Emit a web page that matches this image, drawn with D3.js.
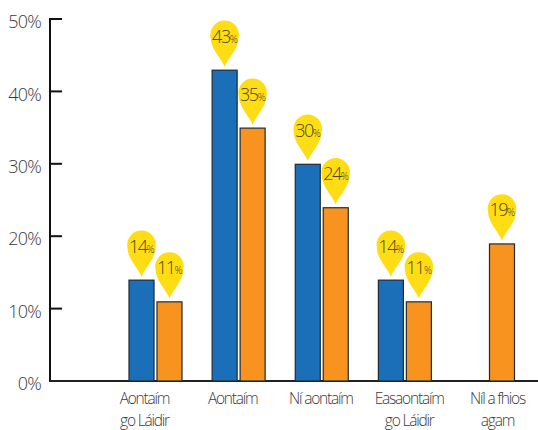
<!DOCTYPE html>
<html><head><meta charset="utf-8">
<script src="https://cdn.jsdelivr.net/npm/d3@7"></script>
<style>html,body{margin:0;padding:0;background:#fff}svg{display:block}text{font-family:"Open Sans",sans-serif}</style>
</head><body><svg id="c" width="538" height="430"></svg>
<script>
const categories=["Aontaím|go Láidir","Aontaím","Ní aontaím","Easaontaím|go Láidir","Níl a fhios|agam"];
const seriesBlue=[14,43,30,14,null];
const seriesOrange=[11,35,24,11,19];
const yTicks=[0,10,20,30,40,50];
const colors=["#1b6fb8","#f7931e"];
const pinColor="#ffdd15";

const svg=d3.select("#c");
const y=d3.scaleLinear().domain([0,50]).range([381,19]);
const x=d3.scalePoint().domain(categories).range([155.5,488]);
const labelX=d3.scalePoint().domain(categories).range([144.5,497.5]);
const inner=d3.scaleBand().domain([0,1]).range([-27,27]).paddingInner(0.07);

const yAxis=d3.axisLeft(y).tickValues(yTicks).tickSize(0).tickPadding(9).tickFormat(d=>d+"%");
const ya=svg.append("g").attr("transform","translate(50,3)").call(yAxis);
ya.select(".domain").remove();
ya.selectAll("text").attr("font-size",18).attr("font-weight",300).attr("letter-spacing",-0.8).attr("fill","#3a3a3a");
svg.append("line").attr("x1",50).attr("x2",50).attr("y1",18).attr("y2",382).attr("stroke","#111").attr("stroke-width",2);
svg.selectAll(".t").data(yTicks).join("line").attr("x1",50).attr("x2",62).attr("y1",d=>y(d)).attr("y2",d=>y(d)).attr("stroke","#111").attr("stroke-width",2);
svg.append("line").attr("x1",50).attr("x2",538).attr("y1",y(0)).attr("y2",y(0)).attr("stroke","#222").attr("stroke-width",2);

const pts=[];
[seriesBlue,seriesOrange].forEach((s,si)=>s.forEach((v,i)=>{if(v!=null)pts.push({c:categories[i],v,si})}));
const px=d=>x(d.c)+inner(d.si);
svg.selectAll("rect.b").data(pts).join("rect").attr("class","b")
 .attr("x",d=>px(d)+0.5).attr("y",d=>y(d.v)+0.5).attr("width",inner.bandwidth()-1).attr("height",d=>y(0)-y(d.v)-0.5)
 .attr("fill",d=>colors[d.si]).attr("stroke","#1d2b36").attr("stroke-width",1.2);

const pin=svg.selectAll("g.p").data(pts).join("g").attr("class","p")
 .attr("transform",d=>`translate(${px(d)+inner.bandwidth()/2},${y(d.v)-3})`);
pin.append("path").attr("fill",pinColor)
 .attr("d","M0,0 C-3,-8 -14,-18 -14,-29 A14.3,14.3 0 1 1 14,-29 C14,-18 3,-8 0,0Z");
const lab=pin.append("text").attr("y",-24).attr("text-anchor","middle").attr("fill","#4d4620").attr("font-weight",300);
lab.append("tspan").attr("font-size",18).attr("letter-spacing",-1.5).text(d=>d.v);
lab.append("tspan").attr("font-size",10).attr("letter-spacing",-0.6).text("%");

const xl=svg.selectAll("text.x").data(categories).join("text").attr("class","x")
 .attr("text-anchor","middle").attr("font-size",15.5).attr("font-weight",300).attr("letter-spacing",-1.2).attr("fill","#3a3a3a");
xl.each(function(c){
 d3.select(this).selectAll("tspan").data(c.split("|")).join("tspan")
  .attr("x",labelX(c)).attr("y",(d,i)=>404+i*22).text(d=>d);
});
</script></body></html>
